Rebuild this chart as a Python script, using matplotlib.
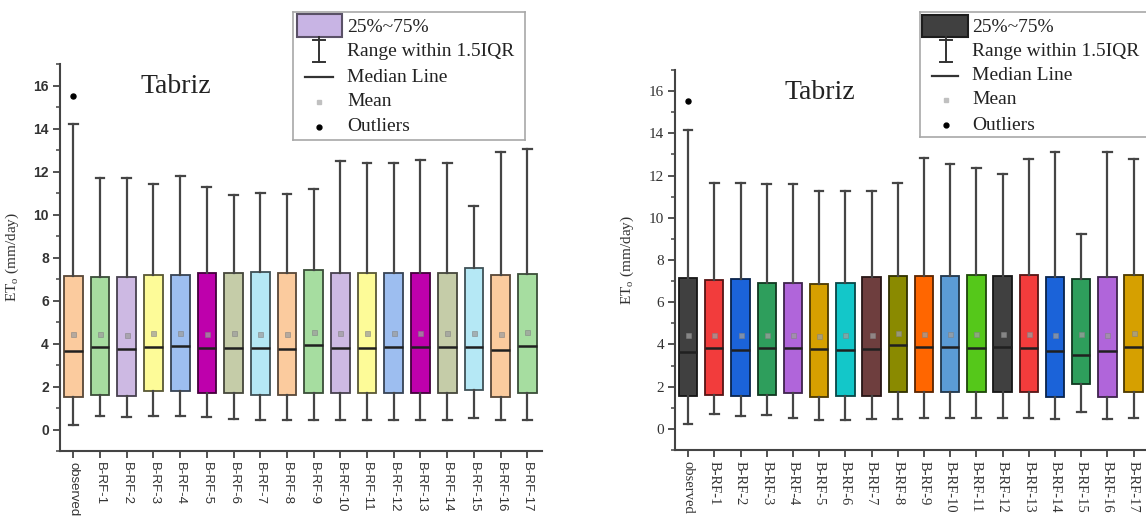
import numpy as np
import matplotlib
matplotlib.use("Agg")
import matplotlib.pyplot as plt
import matplotlib.colors as mcolors
from matplotlib.ticker import MultipleLocator
from matplotlib.patches import Rectangle

# categories on the x axis
categories = ["observed"] + ["B-RF-%d" % i for i in range(1, 18)]

# left panel (pale palette)
left_q1 = [1.49, 1.62, 1.55, 1.80, 1.80, 1.72, 1.72, 1.62, 1.62, 1.72, 1.72, 1.72, 1.72, 1.72, 1.72, 1.86, 1.53, 1.72]
left_med = [3.67, 3.83, 3.74, 3.83, 3.90, 3.80, 3.80, 3.78, 3.75, 3.95, 3.80, 3.80, 3.85, 3.85, 3.83, 3.83, 3.72, 3.90]
left_q3 = [7.16, 7.10, 7.10, 7.20, 7.20, 7.27, 7.27, 7.33, 7.27, 7.40, 7.30, 7.27, 7.30, 7.30, 7.27, 7.50, 7.20, 7.25]
left_lo = [0.23, 0.65, 0.60, 0.62, 0.62, 0.58, 0.50, 0.45, 0.42, 0.46, 0.46, 0.46, 0.46, 0.46, 0.46, 0.55, 0.46, 0.46]
left_hi = [14.2, 11.7, 11.7, 11.4, 11.8, 11.27, 10.93, 11.0, 10.95, 11.2, 12.5, 12.4, 12.4, 12.55, 12.4, 10.4, 12.9, 13.05]
left_mean = [4.45, 4.45, 4.40, 4.50, 4.50, 4.45, 4.50, 4.45, 4.45, 4.55, 4.50, 4.50, 4.50, 4.50, 4.50, 4.50, 4.45, 4.55]
left_outliers = [[15.5]] + [[] for _ in range(17)]

# right panel (bright palette)
right_q1 = [1.56, 1.60, 1.56, 1.60, 1.70, 1.52, 1.58, 1.58, 1.75, 1.75, 1.75, 1.75, 1.75, 1.75, 1.52, 2.13, 1.52, 1.75]
right_med = [3.65, 3.83, 3.74, 3.83, 3.83, 3.78, 3.74, 3.80, 3.98, 3.90, 3.90, 3.84, 3.90, 3.84, 3.70, 3.50, 3.70, 3.87]
right_q3 = [7.15, 7.06, 7.10, 6.93, 6.93, 6.87, 6.93, 7.20, 7.25, 7.25, 7.25, 7.27, 7.25, 7.27, 7.20, 7.12, 7.20, 7.27]
right_lo = [0.22, 0.70, 0.62, 0.65, 0.50, 0.43, 0.43, 0.45, 0.47, 0.50, 0.50, 0.50, 0.50, 0.50, 0.47, 0.80, 0.47, 0.50]
right_hi = [14.17, 11.66, 11.66, 11.6, 11.6, 11.28, 11.28, 11.28, 11.65, 12.85, 12.55, 12.35, 12.08, 12.8, 13.1, 9.23, 13.1, 12.8]
right_mean = [4.45, 4.45, 4.45, 4.45, 4.45, 4.40, 4.45, 4.45, 4.55, 4.50, 4.50, 4.50, 4.50, 4.50, 4.45, 4.50, 4.45, 4.55]
right_outliers = [[15.55]] + [[] for _ in range(17)]

legend_labels = ["25%~75%", "Range within 1.5IQR", "Median Line", "Mean", "Outliers"]

pale = ["#FBCB9E", "#A6DDA0", "#CDB9E3", "#FDFB98", "#9DBEF0", "#BE00AC", "#C5CCA8", "#B5E8F5"]
bright = ["#404040", "#F23C3C", "#1B63D9", "#2E9E5C", "#B065DA", "#D6A000",
          "#13C7C9", "#6E3E3E", "#8A8A00", "#FF6600", "#5B9BD5", "#55C81A"]

W, H = 1146, 525
fig = plt.figure(figsize=(W / 100, H / 100), dpi=100)


def darker(c, f=0.35):
    r, g, b = mcolors.to_rgb(c)
    return (r * f, g * f, b * f)


def panel(rect, q1, med, q3, lo, hi, mean, outl, palette, tickfont, xsize, ysize, yweight):
    ax = fig.add_axes(rect)
    stats = []
    for i in range(len(categories)):
        stats.append(dict(med=med[i], q1=q1[i], q3=q3[i], whislo=lo[i], whishi=hi[i],
                          mean=mean[i], fliers=outl[i], label=categories[i]))
    bp = ax.bxp(stats, positions=range(len(categories)), widths=0.7, capwidths=0.33,
                patch_artist=True, showmeans=True,
                whiskerprops=dict(color="#454545", lw=1.6),
                capprops=dict(color="#454545", lw=1.6),
                medianprops=dict(color="#202020", lw=1.8),
                meanprops=dict(marker="s", markersize=3.6, markerfacecolor=(0.62, 0.62, 0.62, 0.75),
                               markeredgecolor=(0.5, 0.5, 0.5, 0.6), markeredgewidth=0.6),
                flierprops=dict(marker="o", markersize=3.6, markerfacecolor="black",
                                markeredgecolor="black"))
    for i, b in enumerate(bp["boxes"]):
        col = palette[i % len(palette)]
        b.set_facecolor(col)
        b.set_edgecolor(darker(col))
        b.set_linewidth(1.3)
    ax.set_xlim(-0.5, 17.55)
    ax.set_ylim(-1, 17)
    ax.set_xticks(range(len(categories)))
    ax.set_xticklabels(categories, rotation=270, ha="center", va="top",
                       family=tickfont, fontsize=xsize, color="#333333")
    ax.set_yticks(range(0, 17, 2))
    ax.set_yticklabels([str(v) for v in range(0, 17, 2)], family=tickfont,
                       fontsize=ysize, color="#333333", weight=yweight)
    ax.yaxis.set_minor_locator(MultipleLocator(1))
    ax.tick_params(which="major", direction="out", length=5, width=1.3, color="#444444", pad=3)
    ax.tick_params(which="minor", direction="out", length=3, width=1.1, color="#444444")
    ax.tick_params(axis="x", which="minor", bottom=False)
    for s in ["top", "right"]:
        ax.spines[s].set_visible(False)
    for s in ["left", "bottom"]:
        ax.spines[s].set_color("#444444")
        ax.spines[s].set_linewidth(1.5)
    ax.set_ylabel(r"ET$_\mathregular{o}$ (mm/day)", family="Liberation Serif", fontsize=11,
                  color="#333333")
    return ax


def draw_legend(left, top, width, height, box_color, rows, text_x, box, ix, med_x):
    lax = fig.add_axes([left / W, 1 - (top + height) / H, width / W, height / H])
    lax.set_xlim(0, width)
    lax.set_ylim(height, 0)
    lax.set_xticks([])
    lax.set_yticks([])
    for s in lax.spines.values():
        s.set_color("#a8a8a8")
        s.set_linewidth(1.2)
    x0, x1, y0, y1 = box
    lax.add_patch(Rectangle((x0, y0), x1 - x0, y1 - y0, facecolor=box_color,
                            edgecolor=darker(box_color, 0.45), lw=1.5))
    lax.plot([ix, ix], [y1, rows[1] + 10], color="#333333", lw=1.4)
    lax.plot([ix - 6, ix + 6], [y1 + 3, y1 + 3], color="#333333", lw=1.4)
    lax.plot([ix - 6, ix + 6], [rows[1] + 10, rows[1] + 10], color="#333333", lw=1.4)
    lax.plot(med_x, [rows[2], rows[2]], color="#333333", lw=1.6)
    lax.plot([ix], [rows[3]], marker="s", markersize=3, color="#c0c0c0")
    lax.plot([ix], [rows[4]], marker="o", markersize=3.5, color="black")
    for r, t in zip(rows, legend_labels):
        lax.text(text_x, r, t, va="center", ha="left", family="Liberation Serif",
                 fontsize=14, color="#222222")


axl = panel([60 / W, 1 - 451 / H, 482 / W, 387 / H], left_q1, left_med, left_q3, left_lo,
            left_hi, left_mean, left_outliers, pale, "Liberation Sans", 9.5, 10, "bold")
axl.yaxis.set_label_coords(-0.08, 0.5)
axl.text(0.241, 0.925, "Tabriz", transform=axl.transAxes, ha="center", va="baseline",
         family="Liberation Serif", fontsize=20, color="#222222")

axr = panel([675 / W, 1 - 450 / H, 473 / W, 380 / H], right_q1, right_med, right_q3, right_lo,
            right_hi, right_mean, right_outliers, bright, "Liberation Serif", 10.5, 11, "normal")
axr.yaxis.set_label_coords(-0.082, 0.5)
axr.text(0.307, 0.924, "Tabriz", transform=axr.transAxes, ha="center", va="baseline",
         family="Liberation Serif", fontsize=20, color="#222222")

draw_legend(293, 12, 232, 128, "#C8B4E4", [15, 40, 65, 90, 115], 54, (4, 49, 2, 25), 26, [12, 40])
draw_legend(920, 12, 232, 125, "#404040", [15, 40, 64, 88, 113], 52, (2, 48, 3, 25), 26, [12, 38])

fig.savefig("out.png", dpi=100)
